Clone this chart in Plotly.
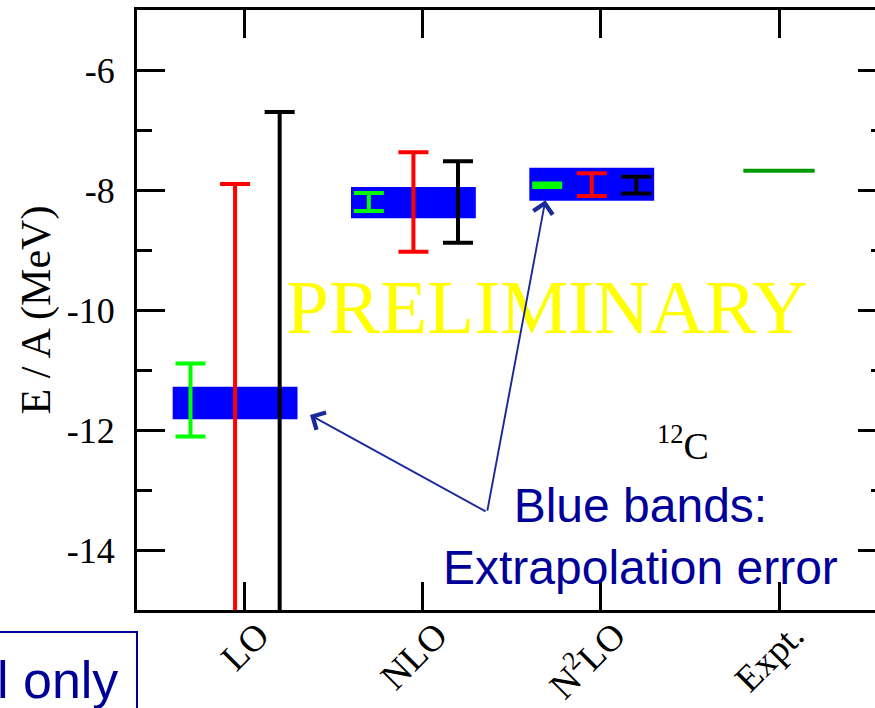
import plotly.graph_objects as go

# Chiral order labels along x
orders = ["LO", "NLO", "N<sup>2</sup>LO", "Expt."]
order_pos = [1, 2, 3, 4]

# Extrapolation bands, E/A in MeV (LO, NLO, N2LO)
band_low = [-11.82, -8.47, -8.18]
band_high = [-11.28, -7.95, -7.63]

# Error bars for the three calculations at each order
green_E = [-11.50, -8.20, -7.92]
green_err = [0.61, 0.15, 0.03]
red_E = [-11.50, -8.20, -7.91]
red_err = [3.60, 0.83, 0.19]
black_E = [-11.50, -8.20, -7.92]
black_err = [4.80, 0.68, 0.14]

# Experimental binding energy per nucleon
expt_E = -7.68

# y tick values and their labels (plain hyphen)
y_ticks = [-14, -12, -10, -8, -6]
y_labels = [str(v) for v in y_ticks]

SERIF = "Liberation Serif"
SANS = "Liberation Sans"
NAVY = "#000099"

fig = go.Figure()

calc_pos = order_pos[:3]

# blue extrapolation bands
fig.add_trace(go.Bar(
    x=[p - 0.05 for p in calc_pos],
    base=band_low,
    y=[h - l for h, l in zip(band_high, band_low)],
    width=0.70,
    marker=dict(color="#0000ff", line=dict(width=0)),
    hoverinfo="skip",
))

def err_trace(offset, centers, errs, color):
    return go.Scatter(
        x=[p + offset for p in calc_pos],
        y=centers,
        mode="markers",
        marker=dict(size=1, color="rgba(0,0,0,0)"),
        error_y=dict(type="data", array=errs, color=color, thickness=4, width=15),
        hoverinfo="skip",
    )

fig.add_trace(err_trace(-0.30, green_E, green_err, "#00ff00"))
fig.add_trace(err_trace(-0.05, red_E, red_err, "#ff0000"))
fig.add_trace(err_trace(0.20, black_E, black_err, "#000000"))

# experiment
fig.add_trace(go.Scatter(
    x=[order_pos[3] - 0.2, order_pos[3] + 0.2],
    y=[expt_E, expt_E],
    mode="lines",
    line=dict(color="#009a00", width=4),
    hoverinfo="skip",
))

axis_common = dict(
    showline=True, linecolor="black", linewidth=3,
    ticks="inside", tickcolor="black", tickwidth=2.5, ticklen=28,
    mirror="ticks", showgrid=False, zeroline=False, automargin=False,
)

fig.update_xaxes(
    range=[0.4, 4.6],
    tickmode="array", tickvals=order_pos, ticktext=orders,
    tickangle=-45,
    tickfont=dict(family=SERIF, size=37, color="black"),
    ticklabelshift=14,
    ticklabelstandoff=-14,
    **axis_common,
)
fig.update_yaxes(
    range=[-15, -5],
    tickmode="array", tickvals=y_ticks, ticktext=y_labels,
    tickfont=dict(family=SERIF, size=36, color="black"),
    ticklabelstandoff=12,
    minor=dict(dtick=1, ticks="inside", ticklen=15, tickwidth=2.5, tickcolor="black"),
    title=dict(text="E / A (MeV)", font=dict(family=SERIF, size=42, color="black"), standoff=4),
    **axis_common,
)

annotations = [
    dict(x=2.70, y=-9.95, xref="x", yref="y", text="PRELIMINARY", showarrow=False,
         font=dict(family=SERIF, size=77, color="#ffff00"), xanchor="center", yanchor="middle"),
    dict(x=3.46, y=-12.22, xref="x", yref="y", text="<sup>12</sup>C", showarrow=False,
         font=dict(family=SERIF, size=38, color="black"), xanchor="center", yanchor="middle"),
    dict(x=3.225, y=-13.78, xref="x", yref="y", text="Blue bands:<br>Extrapolation error",
         showarrow=False, font=dict(family=SANS, size=48, color=NAVY),
         xanchor="center", yanchor="middle", align="center"),
    dict(x=1.37, y=-11.75, ax=2.363, ay=-13.37, xref="x", yref="y", axref="x", ayref="y",
         text="", showarrow=True, arrowhead=4, arrowsize=2.0, arrowwidth=1.9, arrowcolor="#1a2a9a"),
    dict(x=2.69, y=-8.17, ax=2.363, ay=-13.37, xref="x", yref="y", axref="x", ayref="y",
         text="", showarrow=True, arrowhead=4, arrowsize=2.0, arrowwidth=1.9, arrowcolor="#1a2a9a"),
    dict(x=-0.023, y=-0.117, xref="paper", yref="paper", text="Statistical only", showarrow=False,
         font=dict(family=SANS, size=52, color=NAVY), xanchor="right", yanchor="middle"),
]

shapes = [
    dict(type="rect", xref="paper", yref="paper", x0=-0.4, x1=0.0, y0=-0.0367, y1=-0.3,
         line=dict(color=NAVY, width=2), fillcolor="rgba(0,0,0,0)"),
]

fig.update_layout(
    width=887, height=708, autosize=False,
    margin=dict(l=137, r=1, t=10, b=98, autoexpand=False),
    paper_bgcolor="white", plot_bgcolor="white",
    showlegend=False, barmode="overlay",
    annotations=annotations, shapes=shapes,
)

fig.write_html(
    "out.html",
    config={"displayModeBar": False},
    post_script=(
        "document.body.style.margin='0';"
        "document.body.style.overflow='hidden';"
        "document.documentElement.style.overflow='hidden';"
    ),
)
